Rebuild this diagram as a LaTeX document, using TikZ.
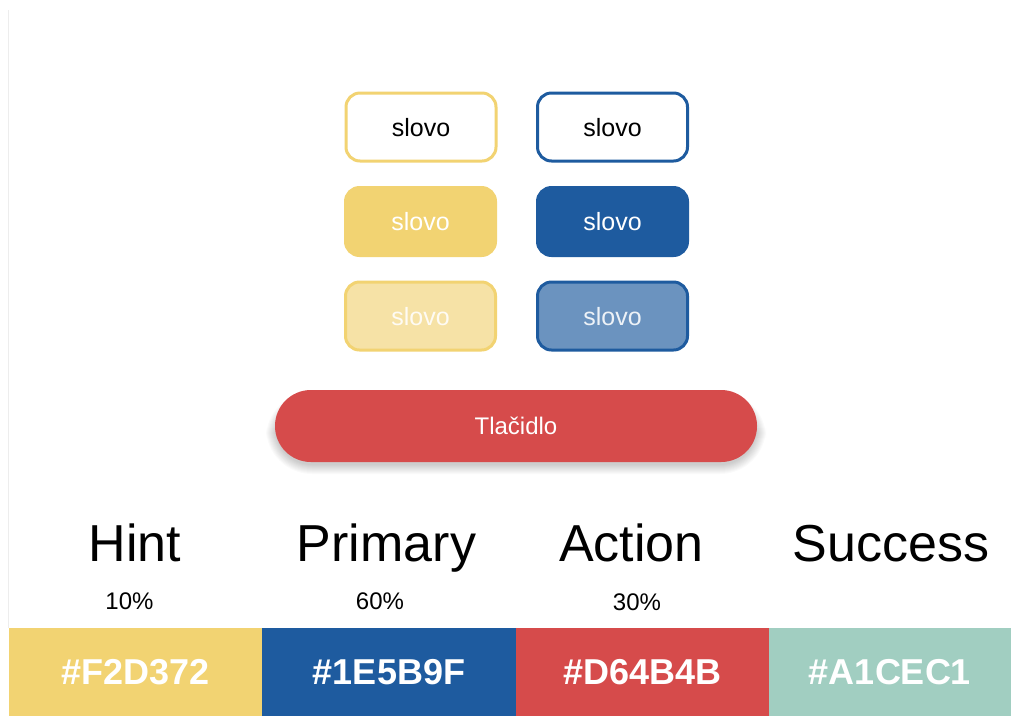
\documentclass[tikz,border=0pt]{standalone}
\usepackage{fontspec}
\setmainfont{Liberation Sans}
\definecolor{hint}{HTML}{F2D372}
\definecolor{primary}{HTML}{1E5B9F}
\definecolor{action}{HTML}{D64B4B}
\definecolor{success}{HTML}{A1CEC1}
\definecolor{hintlight}{HTML}{F6E2A6}
\definecolor{primarylight}{HTML}{6B93BF}
\tikzset{
  chip/.style={rectangle, rounded corners=14pt, line width=3pt, minimum width=150pt, minimum height=68pt, inner sep=0pt, font=\fontsize{25}{29}\selectfont, text height=18pt, text depth=0pt},
  btn/.style={rectangle, rounded corners=35.9pt, fill=action, minimum width=482pt, minimum height=72pt, inner sep=0pt, text=white, font=\fontsize{24}{28}\selectfont},
  title/.style={anchor=base, inner sep=0pt, font=\fontsize{52}{60}\selectfont},
  pct/.style={anchor=base, inner sep=0pt, font=\fontsize{24}{28}\selectfont},
  strip/.style={rectangle, inner sep=0pt, outer sep=0pt, minimum height=88pt, text=white, font=\bfseries\fontsize{36}{40}\selectfont},
}
\begin{document}
\begin{tikzpicture}[x=1pt,y=-1pt]
\useasboundingbox (0,0) rectangle (1011,716);
\fill[white] (0,0) rectangle (1011,716);
\draw[black!7, line width=1pt] (8.5,10) -- (8.5,628);
% chips
\node[chip, draw=hint, fill=white] (h1) at (421,127) {slovo};
\node[chip, draw=primary, fill=white] (p1) at (612.5,127) {slovo};
\node[chip, draw=hint, fill=hint, text=white] (h2) at (420.5,221.5) {slovo};
\node[chip, draw=primary, fill=primary, text=white] (p2) at (612.5,221.5) {slovo};
\node[chip, draw=hint, fill=hintlight, text=white!92!hint] (h3) at (420.5,316) {slovo};
\node[chip, draw=primary, fill=primarylight, text=white!92!primary] (p3) at (612.5,316) {slovo};
% button shadow
\foreach \i in {1,...,10}{
  \fill[black, opacity=0.02, rounded corners={36pt+\i pt}] (276-\i,402-\i) rectangle (756+\i,464+\i);
}
\node[btn] (b) at (516,426) {Tla\v{c}idlo};
% titles
\node[title] (th) at (135,561) {Hint};
\node[title] (tp) at (386.5,561) {Primary};
\node[title] (ta) at (631.5,561) {Action};
\node[title] (ts) at (891,561) {Success};
\node[pct] (ph) at (129.5,609) {10\%};
\node[pct] (pp) at (380,609) {60\%};
\node[pct] (pa) at (637,610) {30\%};
% strips
\node[strip, fill=hint, minimum width=253pt] (sh) at (135.5,672) {\#F2D372};
\node[strip, fill=primary, minimum width=254pt] (sp) at (389,672) {\#1E5B9F};
\node[strip, fill=action, minimum width=253pt] (sa) at (642.5,672) {\#D64B4B};
\node[strip, fill=success, minimum width=242pt] (ss) at (890,672) {\#A1CEC1};
\end{tikzpicture}
\end{document}
